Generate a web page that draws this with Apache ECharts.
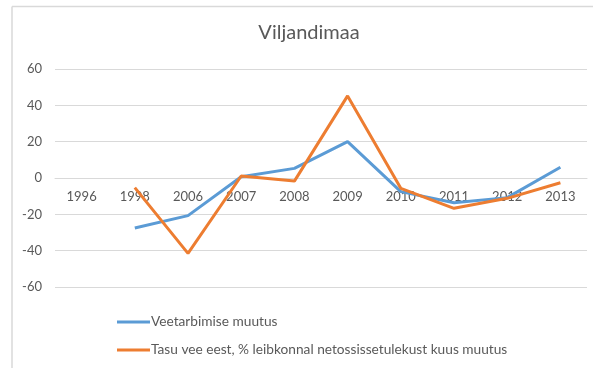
<!DOCTYPE html>
<html>
<head>
<meta charset="utf-8">
<script src="https://cdn.jsdelivr.net/npm/echarts@6/dist/echarts.min.js"></script>
<style>
  html, body { margin: 0; padding: 0; background: #fff; }
  #chart { width: 593px; height: 368px; }
</style>
</head>
<body>
<div id="chart"></div>
<script>
// Years on the category axis
const years = ['1996', '1998', '2006', '2007', '2008', '2009', '2010', '2011', '2012', '2013'];
// Change in water consumption (%)
const consumptionChange = [null, -27.5, -20.7, 0.7, 5.3, 20.0, -7.5, -13.6, -10.8, 5.9];
// Change in water charge as % of household net income per month
const chargeShareChange = [null, -5.3, -41.5, 1.1, -1.7, 45.2, -5.7, -16.7, -11.2, -2.6];
// Value axis ticks
const yMin = -60, yMax = 60, yStep = 20;

const seriesNames = ['Veetarbimise muutus', 'Tasu vee eest, % leibkonnal netossissetulekust kuus muutus'];
const textColor = '#595959';
const gridColor = '#d9d9d9';
const font = 'Lato, "Open Sans", sans-serif';

// plot area geometry; the category axis sits on the zero line
const gridTop = 69, gridBottom = 81, chartH = 368;
const plotH = chartH - gridTop - gridBottom;
const zeroOffset = -plotH * (0 - yMin) / (yMax - yMin);

const chart = echarts.init(document.getElementById('chart'), null, { renderer: 'canvas' });
chart.setOption({
  animation: false,
  backgroundColor: '#fff',
  title: {
    text: 'Viljandimaa',
    left: 304, top: 18, textAlign: 'center',
    textStyle: { color: textColor, fontFamily: font, fontSize: 20, fontWeight: 'normal' }
  },
  graphic: [
    { type: 'line', shape: { x1: 12, y1: 6.5, x2: 593, y2: 6.5 }, style: { stroke: gridColor, lineWidth: 1.5 } },
    { type: 'line', shape: { x1: 12, y1: 6.5, x2: 12, y2: 368 }, style: { stroke: gridColor, lineWidth: 1.5 } }
  ],
  grid: { left: 55, right: 6, top: gridTop, bottom: gridBottom, containLabel: false },
  legend: {
    orient: 'vertical',
    left: 112, top: 310,
    itemWidth: 33, itemHeight: 3, itemGap: 14,
    icon: 'rect',
    textStyle: { color: textColor, fontFamily: font, fontSize: 13.7, padding: [0, 0, 0, -4] },
    data: seriesNames
  },
  xAxis: {
    type: 'category',
    data: years,
    boundaryGap: true,
    position: 'bottom',
    offset: zeroOffset,
    axisLine: { onZero: false, lineStyle: { color: gridColor } },
    axisTick: { show: false },
    axisLabel: { color: textColor, fontFamily: font, fontSize: 13, margin: 12, interval: 0 }
  },
  yAxis: {
    type: 'value',
    min: yMin, max: yMax, interval: yStep,
    axisLine: { show: false },
    axisTick: { show: false },
    axisLabel: { color: textColor, fontFamily: font, fontSize: 13, margin: 13 },
    splitLine: { lineStyle: { color: gridColor, width: 1 } }
  },
  series: [
    {
      name: seriesNames[0], type: 'line', data: consumptionChange,
      symbol: 'none', connectNulls: false,
      lineStyle: { color: '#5b9bd5', width: 3 }, itemStyle: { color: '#5b9bd5' }
    },
    {
      name: seriesNames[1], type: 'line', data: chargeShareChange,
      symbol: 'none', connectNulls: false,
      lineStyle: { color: '#ed7d31', width: 3 }, itemStyle: { color: '#ed7d31' }
    }
  ]
});
</script>
</body>
</html>
